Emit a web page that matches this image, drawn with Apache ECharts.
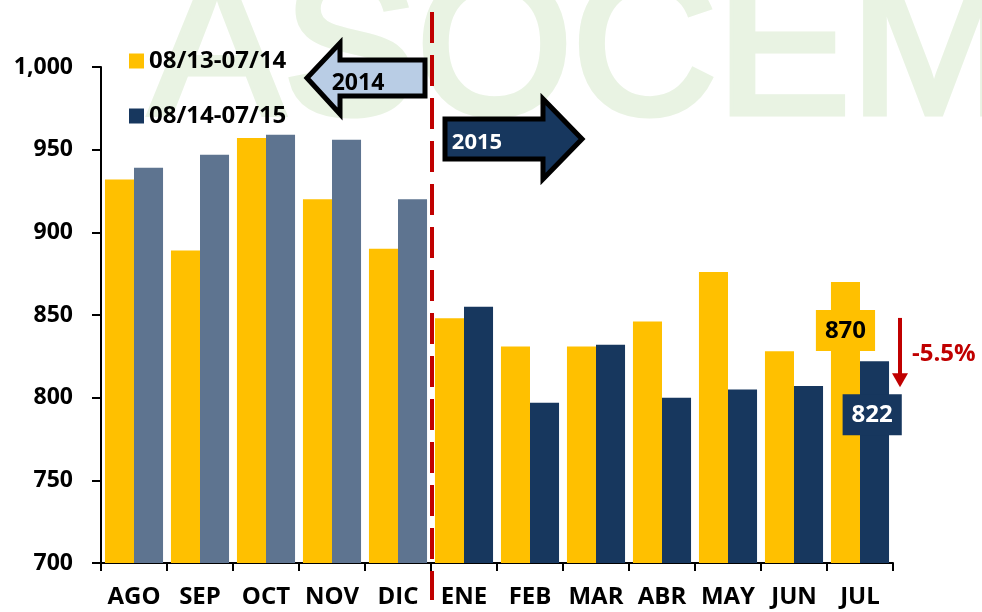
<!DOCTYPE html>
<html>
<head>
<meta charset="utf-8">
<script src="https://cdn.jsdelivr.net/npm/echarts@6/dist/echarts.min.js"></script>
<style>
  html, body { margin: 0; padding: 0; background: #fff; }
  #chart { width: 982px; height: 612px; }
</style>
</head>
<body>
<div id="chart"></div>
<script>
var months = ['AGO', 'SEP', 'OCT', 'NOV', 'DIC', 'ENE', 'FEB', 'MAR', 'ABR', 'MAY', 'JUN', 'JUL'];
var seriesNames = ['08/13-07/14', '08/14-07/15'];
var prevYear = [932, 889, 957, 920, 890, 848, 831, 831, 846, 876, 828, 870];
var currYear = [939, 947, 959, 956, 920, 855, 797, 832, 800, 805, 807, 822];
var changeText = '-5.5%';

var FONT = '"Open Sans", "DejaVu Sans", sans-serif';
var YELLOW = '#FFC000';
var NAVY = '#17375E';
var GREYBLUE = '#5E7490';

var chart = echarts.init(document.getElementById('chart'));

// last month gets a boxed label
var prevData = prevYear.map(function (v, i) {
	var d = { value: v };
	if (i === prevYear.length - 1) {
		d.label = {
			show: true, position: ['50%', 28], align: 'center', verticalAlign: 'top',
			backgroundColor: YELLOW, color: '#000', padding: [8, 9, 7, 9],
			fontFamily: FONT, fontWeight: 'bold', fontSize: 24, lineHeight: 26
		};
	}
	return d;
});
var currData = currYear.map(function (v, i) {
	var d = { value: v, itemStyle: { color: i < 5 ? GREYBLUE : NAVY } };
	if (i === currYear.length - 1) {
		d.label = {
			show: true, position: ['42%', 33], align: 'center', verticalAlign: 'top',
			backgroundColor: NAVY, color: '#fff', padding: [8, 9, 7, 9],
			fontFamily: FONT, fontWeight: 'bold', fontSize: 24, lineHeight: 26
		};
	}
	return d;
});

var option = {
	animation: false,
	backgroundColor: '#fff',
	grid: { left: 101, right: 89, top: 67, bottom: 49 },
	legend: {
		orient: 'vertical', left: 124, top: 44, itemGap: 31,
		itemWidth: 15, itemHeight: 15, icon: 'rect',
		textStyle: { fontFamily: FONT, fontWeight: 'bold', fontSize: 24, color: '#000' },
		data: seriesNames
	},
	xAxis: {
		type: 'category', data: months,
		axisLine: { lineStyle: { color: '#000', width: 2 } },
		axisTick: { show: true, length: 8, lineStyle: { color: '#000', width: 2 } },
		axisLabel: { interval: 0, margin: 22, color: '#000', fontFamily: FONT, fontWeight: 'bold', fontSize: 24 }
	},
	yAxis: {
		type: 'value', min: 700, max: 1000, interval: 50,
		splitLine: { show: false },
		axisLine: { show: true, lineStyle: { color: '#000', width: 2 } },
		axisTick: { show: true, length: 9, lineStyle: { color: '#000', width: 2 } },
		axisLabel: {
			margin: 28, color: '#000', fontFamily: FONT, fontWeight: 'bold', fontSize: 23,
			formatter: function (v) { return v >= 1000 ? '1,000' : String(v); }
		}
	},
	series: [
		{ name: seriesNames[0], type: 'bar', data: prevData, barGap: '0%', barCategoryGap: '12%',
			itemStyle: { color: YELLOW }, z: 3 },
		{ name: seriesNames[1], type: 'bar', data: currData,
			itemStyle: { color: NAVY }, z: 3 }
	]
};
chart.setOption(option);

// annotations placed from the axis scale
var xDic = chart.convertToPixel({ xAxisIndex: 0 }, 'DIC');
var xEne = chart.convertToPixel({ xAxisIndex: 0 }, 'ENE');
var xSplit = (xDic + xEne) / 2 + 1;
var yTop = chart.convertToPixel({ yAxisIndex: 0 }, prevYear[11]);
var yBot = chart.convertToPixel({ yAxisIndex: 0 }, currYear[11]);

chart.setOption({
	graphic: [
		{ type: 'text', z: -10, silent: true,
			style: { text: 'ASOCEM', x: 150, y: 158, textVerticalAlign: 'bottom', verticalAlign: 'bottom',
				font: '200px "Liberation Sans", sans-serif', fill: '#E9F3E3', stroke: '#E9F3E3', lineWidth: 7 } },
		{ type: 'line', z: 10, silent: true,
			shape: { x1: xSplit, y1: 12, x2: xSplit, y2: 600 },
			style: { stroke: '#C00000', lineWidth: 4, lineDash: [31, 12] } },
		{ type: 'polygon', z: 10, silent: true,
			shape: { points: [[307, 78], [340, 43], [340, 60], [425, 60], [425, 96], [340, 96], [340, 114]] },
			style: { fill: '#B9CDE5', stroke: '#000', lineWidth: 5 } },
		{ type: 'text', z: 11, silent: true,
			style: { text: '2014', x: 358, y: 83, textAlign: 'center', textVerticalAlign: 'middle', align: 'center', verticalAlign: 'middle',
				font: 'bold 23px ' + FONT, fill: '#000' } },
		{ type: 'polygon', z: 10, silent: true,
			shape: { points: [[445, 119], [543, 119], [543, 99], [582, 139], [543, 179], [543, 159], [445, 159]] },
			style: { fill: NAVY, stroke: '#000', lineWidth: 5 } },
		{ type: 'text', z: 11, silent: true,
			style: { text: '2015', x: 477, y: 143, textAlign: 'center', textVerticalAlign: 'middle', align: 'center', verticalAlign: 'middle',
				font: 'bold 22px ' + FONT, fill: '#fff' } },
		{ type: 'line', z: 10, silent: true,
			shape: { x1: 900, y1: yTop + 36, x2: 900, y2: yBot + 14 },
			style: { stroke: '#C00000', lineWidth: 4 } },
		{ type: 'polygon', z: 10, silent: true,
			shape: { points: [[892, yBot + 12], [908, yBot + 12], [900, yBot + 26]] },
			style: { fill: '#C00000' } },
		{ type: 'text', z: 11, silent: true,
			style: { text: changeText, x: 912, y: yBot - 7, textVerticalAlign: 'middle', verticalAlign: 'middle',
				font: 'bold 24px ' + FONT, fill: '#C00000' } }
	]
});
</script>
</body>
</html>
